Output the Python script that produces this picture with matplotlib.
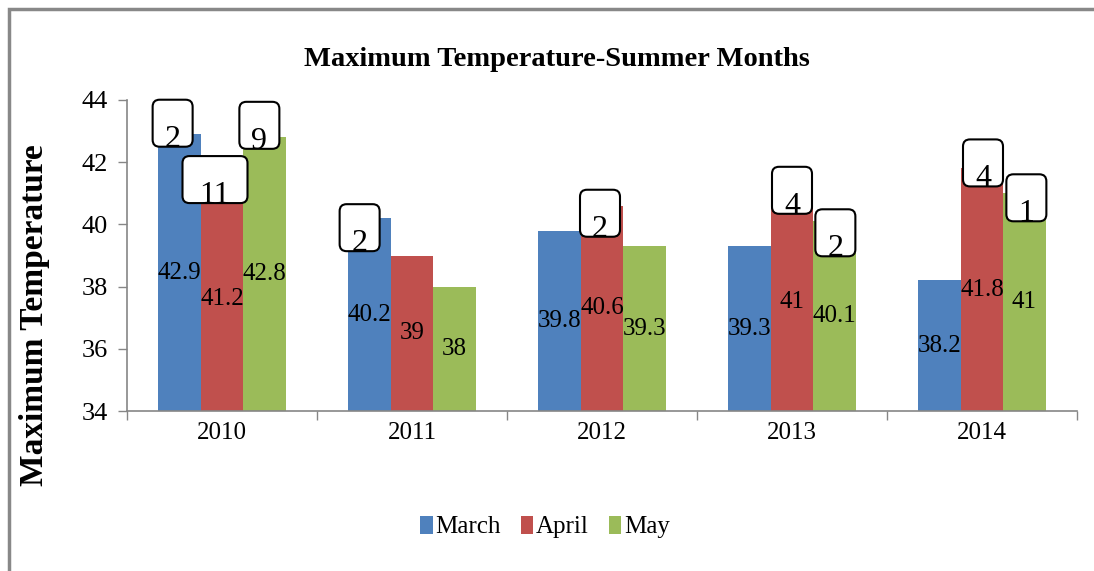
import matplotlib
matplotlib.use("Agg")
import matplotlib.pyplot as plt
import numpy as np
from matplotlib.patches import FancyBboxPatch, Rectangle
from matplotlib.transforms import ScaledTranslation

# ---- data ----
years = ["2010", "2011", "2012", "2013", "2014"]
months = ["March", "April", "May"]
march = [42.9, 40.2, 39.8, 39.3, 38.2]
april = [41.2, 39.0, 40.6, 41.0, 41.8]
may = [42.8, 38.0, 39.3, 40.1, 41.0]
value_labels = [["42.9", "40.2", "39.8", "39.3", "38.2"],
                ["41.2", "39", "40.6", "41", "41.8"],
                ["42.8", "38", "39.3", "40.1", "41"]]

# callout boxes (year index, month index, text)
callout_year = [0, 0, 0, 1, 2, 3, 3, 4, 4]
callout_month = [0, 1, 2, 0, 1, 1, 2, 1, 2]
callout_text = ["2", "11", "9", "2", "2", "4", "2", "4", "1"]

# ---- style / placement ----
colors = ["#4F81BD", "#C0504D", "#9BBB59"]
callout_dx = [-7, -7, -5, -10, -2, 0, 1, 1, 2]          # px
callout_dy = [11, 7.5, 12, -9.5, -7.5, 3, -11.5, 5.5, -4.5]  # px, box centre above bar top
FONT = "Liberation Serif"
plt.rcParams["font.family"] = [FONT, "DejaVu Serif"]

W, H = 1094, 571
fig = plt.figure(figsize=(W / 100, H / 100), dpi=100)
ax = fig.add_axes([127 / W, 1 - 411 / H, 950 / W, 311 / H])

series = [march, april, may]
x = np.arange(len(years))
bw = 0.223
bars = []
for i, (vals, c) in enumerate(zip(series, colors)):
    b = ax.bar(x + (i - 1) * bw, np.array(vals) - 34, bottom=34, width=bw,
               color=c, label=months[i], zorder=2)
    bars.append(b)
    for j, v in enumerate(vals):
        ax.text(x[j] + (i - 1) * bw, (v + 34) / 2, value_labels[i][j],
                ha="center", va="center", fontsize=18, color="black", zorder=3)

ax.set_xlim(-0.5, len(years) - 0.5)
ax.set_ylim(34, 44)
ax.set_yticks(np.arange(34, 45, 2))
ax.tick_params(axis="y", labelsize=19, length=6.5, width=1, color="#868686",
               direction="out", pad=7)
ax.set_xticks(np.arange(-0.5, len(years), 1.0))
ax.set_xticklabels([])
ax.set_xticks(x, minor=True)
ax.set_xticklabels(years, minor=True)
ax.tick_params(axis="x", which="major", length=6.5, width=1, color="#868686", direction="out")
ax.tick_params(axis="x", which="minor", length=0, labelsize=18, pad=8)
for s in ["top", "right"]:
    ax.spines[s].set_visible(False)
for s in ["left", "bottom"]:
    ax.spines[s].set_color("#868686")
    ax.spines[s].set_linewidth(1.2)

# callouts
for k in range(len(callout_text)):
    yi, mi = callout_year[k], callout_month[k]
    xc = x[yi] + (mi - 1) * bw
    top = series[mi][yi]
    wpx = 65 if len(callout_text[k]) > 1 else 40
    hpx = 47
    dx = callout_dx[k] / 100
    dy = callout_dy[k] / 100
    tr = fig.dpi_scale_trans + ScaledTranslation(xc, top, ax.transData)
    box = FancyBboxPatch((dx - wpx / 200, dy - hpx / 200), wpx / 100, hpx / 100,
                         boxstyle="round,pad=0,rounding_size=0.07",
                         transform=tr, facecolor="white", edgecolor="black",
                         linewidth=1.5, zorder=4, clip_on=False)
    ax.add_patch(box)
    ax.text(dx, dy - 0.16, callout_text[k], transform=tr, ha="center", va="center",
            fontsize=23, zorder=5)

# title, y label
fig.text(557 / W, 1 - 60 / H, "Maximum Temperature-Summer Months", ha="center",
         va="center", fontsize=20.5, fontweight="bold")
fig.text(35 / W, 1 - 315 / H, "Maximum Temperature", ha="center", va="center",
         rotation=90, fontsize=24, fontweight="bold")

# legend
fig.legend(handles=bars, labels=months, loc="center", bbox_to_anchor=(545 / W, 1 - 527 / H),
           ncol=3, frameon=False, fontsize=18, handlelength=0.5, handleheight=0.75,
           handletextpad=0.1, columnspacing=0.8)

# outer border
fig.add_artist(Rectangle((9 / W, -0.1), 1.2, 1.1 - 9 / H, transform=fig.transFigure,
                         fill=False, edgecolor="#888888", linewidth=2.5, clip_on=False))

fig.savefig("out.png", dpi=100)
